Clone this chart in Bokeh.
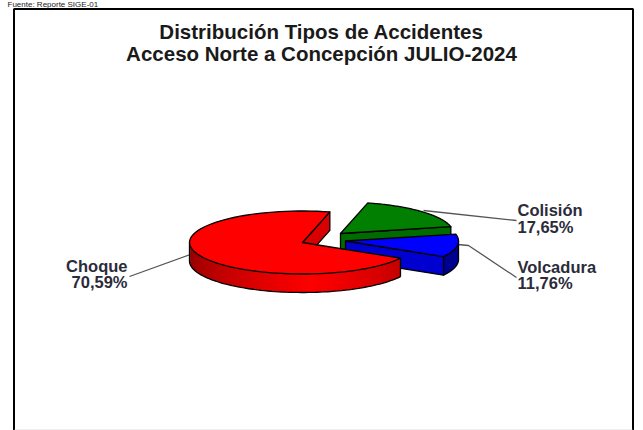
import numpy as np
from bokeh.plotting import figure
from bokeh.models import Range1d
from bokeh.embed import file_html
from bokeh.resources import INLINE
from bokeh.core.properties import value

title_lines = ["Distribución Tipos de Accidentes", "Acceso Norte a Concepción JULIO-2024"]
source_note = "Fuente: Reporte SIGE-01"
categories = ["Choque", "Colisión", "Volcadura"]
shares = [70.59, 17.65, 11.76]
share_labels = ["70,59%", "17,65%", "11,76%"]

FONT = value("Liberation Sans")
A, B, D = 113.0, 31.5, 18.5
START = 76.0
centers = {"Choque": (302, 242), "Colisión": (340, 233), "Volcadura": (345, 240.5)}

p = figure(width=643, height=430, output_backend="svg", toolbar_location=None,
           x_range=Range1d(0, 643), y_range=Range1d(430, 0), min_border=0,
           x_axis_location=None, y_axis_location=None)
p.grid.visible = False
p.outline_line_color = None
p.background_fill_color = "white"


def rim(c, t0, t1, n=80):
    t = np.radians(np.linspace(t0, t1, n))
    return c[0] + A * np.cos(t), c[1] - B * np.sin(t)


def poly(xs, ys, fill, line="#000000", lw=1.3):
    p.patch(list(xs), list(ys), fill_color=fill, line_color=line, line_width=lw, line_join="round")


# angular spans from the shares: Choque runs counter-clockwise from START,
# then Volcadura and Colisión close the circle
r0, r1 = START, START + shares[0] * 3.6
vol = (r1, r1 + shares[2] * 3.6)
col = (vol[1], vol[1] + shares[1] * 3.6)

# leader lines (behind the pie)
p.line([423, 516], [210, 220], line_color="#555555", line_width=1.3)
p.line([457, 468, 516], [244, 245, 277], line_color="#555555", line_width=1.3)
p.line([129, 190], [276, 254], line_color="#555555", line_width=1.3)

# Colisión
c = centers["Colisión"]
x, y = rim(c, col[0], col[1])
poly([c[0], x[0], x[0], c[0]], [c[1], y[0], y[0] + D, c[1] + D], "#006c00")
poly(np.r_[c[0], x], np.r_[c[1], y], "#007f00")

# Volcadura
c = centers["Volcadura"]
x, y = rim(c, vol[0], 360)
poly(np.r_[x, x[::-1]], np.r_[y, y[::-1] + D], "#000090")
poly([c[0], x[0], x[0], c[0]], [c[1], y[0], y[0] + D, c[1] + D], "#0000d0")
x, y = rim(c, vol[0], vol[1])
poly(np.r_[c[0], x], np.r_[c[1], y], "#0000ff")

# Choque
c = centers["Choque"]
x, y = rim(c, r0, r1)
poly([c[0], x[0], x[0], c[0]], [c[1], y[0], y[0] + D, c[1] + D], "#d80000")
# shaded outer side, painted as overlapping strips from left to right
ts = np.linspace(180, r1, 70)
xs, ys, cols = [], [], []
for i, t0 in enumerate(ts[:-1]):
    t1 = min(t0 + (ts[1] - ts[0]) * 1.6, r1)
    sx, sy = rim(c, t0, t1, 4)
    xs.append(list(np.r_[sx, sx[::-1]]))
    ys.append(list(np.r_[sy, sy[::-1] + D]))
    f = (t0 - 180) / (r1 - 180)
    level = 140 + 115 * f / 0.62 if f < 0.62 else 255 - 60 * (f - 0.62) / 0.38
    cols.append("#%02x0000" % int(level))
p.patches(xs, ys, fill_color=cols, line_color=None)
sx, sy = rim(c, 180, r1)
p.line(list(sx), list(sy + D), line_color="black", line_width=1.3)
p.line([sx[0], sx[0]], [sy[0], sy[0] + D], line_color="black", line_width=1.3)
p.line([sx[-1], sx[-1]], [sy[-1], sy[-1] + D], line_color="black", line_width=1.3)
poly(np.r_[c[0], x], np.r_[c[1], y], "#ff0000")

# frame
p.line([13.5, 13.5], [8.5, 430], line_color="black", line_width=2)
p.line([13, 633], [8.5, 8.5], line_color="black", line_width=2)
p.line([632.5, 632.5], [8.5, 430], line_color="black", line_width=2)
p.line([14, 632], [429.5, 429.5], line_color="#dddddd", line_width=1)


def txt(x, y, s, size, align="center", color="#1a1a1a", style="bold"):
    p.text([x], [y], text=[s], text_font=FONT, text_font_size=size, text_font_style=style,
           text_align=align, text_baseline="middle", text_color=color)


txt(321, 31, title_lines[0], "20.5px")
txt(321, 53, title_lines[1], "20.5px")
txt(7, 3.5, source_note, "8px", "left", "#222222", "normal")
idx = {c: i for i, c in enumerate(categories)}
txt(517, 209, categories[idx["Colisión"]], "16.5px", "left", "#2b2b3a")
txt(517, 226, share_labels[idx["Colisión"]], "16.5px", "left", "#2b2b3a")
txt(517, 266, categories[idx["Volcadura"]], "16.5px", "left", "#2b2b3a")
txt(517, 282, share_labels[idx["Volcadura"]], "16.5px", "left", "#2b2b3a")
txt(127, 265, categories[idx["Choque"]], "16.5px", "right", "#2b2b3a")
txt(127, 281, share_labels[idx["Choque"]], "16.5px", "right", "#2b2b3a")

open("out.html", "w").write(file_html(p, INLINE))
